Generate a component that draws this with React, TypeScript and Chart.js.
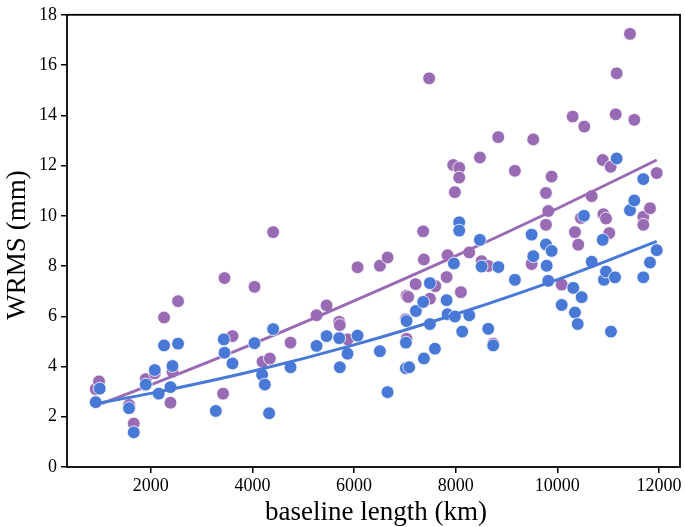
import React, { useEffect, useRef } from "react";
import { Chart, registerables } from "chart.js";

Chart.register(...registerables);

// Purple series (baseline length km, WRMS mm)
const purpleX = [917, 982, 1573, 1665, 1902, 2079, 2262, 2388, 2427, 2537, 3423, 3451, 3608, 4041, 4199, 4343, 4408, 4750, 5262, 5459, 5707, 5720, 5872, 6069, 6508, 6659, 7020, 7033, 7033, 7065, 7211, 7360, 7374, 7478, 7492, 7600, 7821, 7840, 7951, 7984, 8069, 8069, 8102, 8266, 8476, 8510, 8640, 8738, 8837, 9165, 9494, 9526, 9776, 9821, 9776, 9887, 10085, 10301, 10346, 10411, 10463, 10530, 10675, 10892, 10905, 10957, 11022, 11049, 11148, 11167, 11429, 11514, 11691, 11691, 11823, 11955];
const purpleY = [3.10, 3.41, 2.47, 1.73, 3.50, 3.73, 5.95, 2.56, 3.80, 6.60, 2.92, 7.52, 5.21, 7.17, 4.19, 4.32, 9.35, 4.95, 6.04, 6.43, 5.78, 5.65, 5.08, 7.95, 8.01, 8.34, 5.88, 5.10, 6.82, 6.77, 7.28, 9.38, 8.26, 15.47, 6.70, 7.20, 7.56, 8.43, 12.02, 10.94, 11.91, 11.52, 6.96, 8.54, 12.32, 8.19, 8.00, 4.91, 13.13, 11.79, 8.08, 13.04, 10.91, 10.19, 9.64, 11.56, 7.26, 13.95, 9.35, 8.85, 9.91, 13.55, 10.78, 12.22, 10.06, 9.89, 9.31, 11.95, 14.04, 15.67, 17.24, 13.82, 9.96, 9.64, 10.30, 11.70];

// Blue series
const blueX = [917, 996, 1573, 1665, 1902, 2079, 2157, 2262, 2388, 2427, 2537, 3280, 3437, 3451, 3608, 4041, 4191, 4244, 4329, 4408, 4750, 5262, 5459, 5707, 5720, 5872, 6069, 6508, 6659, 7020, 7020, 7033, 7085, 7217, 7360, 7374, 7492, 7492, 7591, 7821, 7840, 7965, 7984, 8069, 8069, 8128, 8266, 8476, 8510, 8640, 8738, 8840, 9165, 9494, 9526, 9776, 9790, 9821, 9887, 10085, 10313, 10346, 10400, 10478, 10524, 10675, 10892, 10917, 10957, 11055, 11134, 11167, 11429, 11514, 11691, 11691, 11823, 11955];
const blueY = [2.58, 3.12, 2.34, 1.38, 3.28, 3.86, 2.92, 4.84, 3.18, 4.02, 4.91, 2.23, 5.08, 4.55, 4.12, 4.93, 3.67, 3.28, 2.14, 5.49, 3.97, 4.82, 5.21, 5.13, 3.97, 4.51, 5.23, 4.61, 2.98, 4.95, 3.93, 5.81, 3.97, 6.21, 6.57, 4.32, 7.32, 5.69, 4.71, 6.64, 6.08, 8.10, 5.99, 9.74, 9.41, 5.39, 6.04, 9.04, 7.98, 5.50, 4.84, 7.96, 7.45, 9.25, 8.39, 8.86, 8.01, 7.41, 8.60, 6.45, 7.13, 6.15, 5.69, 6.76, 10.0, 8.17, 9.04, 7.45, 7.78, 5.39, 7.55, 12.28, 10.22, 10.61, 11.46, 7.55, 8.14, 8.63];

// Fitted trend lines
const fitX = [917, 2000, 4000, 6000, 8000, 10000, 11955];
const purpleFit = [2.43, 3.27, 4.89, 6.61, 8.40, 10.29, 12.22];
const blueFit = [2.52, 2.93, 3.81, 4.86, 6.08, 7.46, 8.98];

const xTicks = [2000, 4000, 6000, 8000, 10000, 12000];
const yTicks = [0, 2, 4, 6, 8, 10, 12, 14, 16, 18];

const xTitle = "baseline length (km)";
const yTitle = "WRMS (mm)";

const PURPLE = "#9a6bb5";
const BLUE = "#4879d6";
const FONT = '"Liberation Serif", "Times New Roman", serif';

const pts = (xs: number[], ys: number[]) => xs.map((x, i) => ({ x, y: ys[i] }));

export default function App() {
  const ref = useRef<HTMLCanvasElement | null>(null);

  useEffect(() => {
    if (!ref.current) return;

    const framePlugin = {
      id: "frame",
      afterDraw(chart: any) {
        const { ctx, chartArea: a } = chart;
        ctx.save();
        ctx.strokeStyle = "#000";
        ctx.lineWidth = 1.8;
        ctx.strokeRect(a.left, a.top, a.right - a.left, a.bottom - a.top);
        ctx.fillStyle = "#000";
        ctx.font = `27px ${FONT}`;
        ctx.textAlign = "center";
        ctx.textBaseline = "alphabetic";
        ctx.fillText(xTitle, 376, 520);
        ctx.translate(25, 245);
        ctx.rotate(-Math.PI / 2);
        ctx.fillText(yTitle, 0, 0);
        ctx.restore();
      },
    };

    const chart = new Chart(ref.current, {
      type: "scatter",
      data: {
        datasets: [
          {
            data: pts(fitX, blueFit),
            showLine: true,
            borderColor: BLUE,
            borderWidth: 3,
            pointRadius: 0,
            cubicInterpolationMode: "monotone",
            order: 0,
          } as any,
          {
            data: pts(blueX, blueY),
            backgroundColor: BLUE,
            borderColor: "#ffffff",
            borderWidth: 0.8,
            pointRadius: 6.4,
            order: 1,
          },
          {
            data: pts(fitX, purpleFit),
            showLine: true,
            borderColor: PURPLE,
            borderWidth: 3,
            pointRadius: 0,
            cubicInterpolationMode: "monotone",
            order: 2,
          } as any,
          {
            data: pts(purpleX, purpleY),
            backgroundColor: PURPLE,
            borderColor: "#ffffff",
            borderWidth: 0.8,
            pointRadius: 6.4,
            order: 3,
          },
        ],
      },
      options: {
        animation: false,
        responsive: false,
        devicePixelRatio: 1,
        events: [],
        layout: { autoPadding: false, padding: { top: 7, right: 5, left: 0, bottom: 0 } } as any,
        plugins: { legend: { display: false }, tooltip: { enabled: false } },
        scales: {
          x: {
            type: "linear",
            min: 352,
            max: 12413,
            afterBuildTicks: (s: any) => {
              s.ticks = xTicks.map((v) => ({ value: v }));
            },
            afterFit: (s: any) => {
              s.height = 60;
            },
            grid: { display: true, drawOnChartArea: false, drawTicks: true, tickLength: 6, color: "#000", lineWidth: 1.5 },
            border: { display: false },
            ticks: {
              color: "#000",
              font: { family: FONT, size: 18 },
              padding: 2,
              maxRotation: 0,
              autoSkip: false,
              callback: (v: any) => String(v),
            },
          },
          y: {
            type: "linear",
            min: 0,
            max: 18,
            afterBuildTicks: (s: any) => {
              s.ticks = yTicks.map((v) => ({ value: v }));
            },
            afterFit: (s: any) => {
              s.width = 67;
            },
            grid: { display: true, drawOnChartArea: false, drawTicks: true, tickLength: 6, color: "#000", lineWidth: 1.5 },
            border: { display: false },
            ticks: {
              color: "#000",
              font: { family: FONT, size: 18 },
              padding: 4,
              autoSkip: false,
              callback: (v: any) => String(v),
            },
          },
        },
      },
      plugins: [framePlugin],
    });

    return () => chart.destroy();
  }, []);

  return (
    <div style={{ position: "fixed", left: 0, top: 0, width: 685, height: 527, background: "#fff" }}>
      <canvas ref={ref} width={685} height={527} />
    </div>
  );
}
